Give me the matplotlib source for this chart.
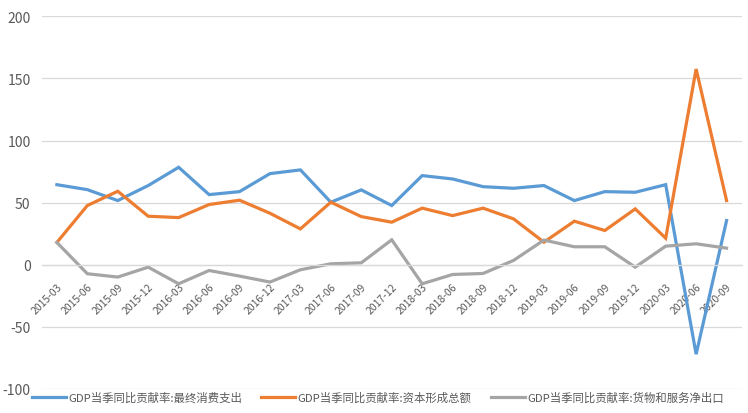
import matplotlib.pyplot as plt

plt.rcParams['font.family'] = ['Noto Sans CJK SC', 'DejaVu Sans']
plt.rcParams['axes.unicode_minus'] = False

# 季度
quarters = ['2015-03', '2015-06', '2015-09', '2015-12',
            '2016-03', '2016-06', '2016-09', '2016-12',
            '2017-03', '2017-06', '2017-09', '2017-12',
            '2018-03', '2018-06', '2018-09', '2018-12',
            '2019-03', '2019-06', '2019-09', '2019-12',
            '2020-03', '2020-06', '2020-09']

# 最终消费支出
consumption = [64.5, 60.5, 51.7, 63.8, 78.5, 56.5, 58.9, 73.4, 76.4, 50.4, 60.3, 47.7,
               71.8, 69.1, 62.9, 61.6, 63.8, 51.7, 58.9, 58.4, 64.5, -72.0, 35.6]
# 资本形成总额
capital = [18.0, 47.7, 59.2, 39.1, 38.0, 48.5, 52.0, 41.5, 28.9, 50.4, 38.8, 34.3,
           45.6, 39.6, 45.6, 37.0, 18.2, 35.1, 27.6, 45.0, 21.4, 157.6, 51.7]
# 货物和服务净出口
net_export = [18.0, -7.2, -9.9, -1.9, -15.3, -4.6, -9.1, -13.9, -4.0, 0.8, 1.6, 20.1,
              -15.3, -7.8, -7.0, 3.5, 19.9, 14.5, 14.5, -1.9, 15.0, 16.9, 13.4]

labels = ['GDP当季同比贡献率:最终消费支出',
          'GDP当季同比贡献率:资本形成总额',
          'GDP当季同比贡献率:货物和服务净出口']
colors = ['#5B9BD5', '#ED7D31', '#A5A5A5']

fig = plt.figure(figsize=(7.48, 4.14), dpi=100)
ax = fig.add_axes([0.0557, 0.058, 0.936, 0.900])

x = range(len(quarters))
for data, lab, c in zip([consumption, capital, net_export], labels, colors):
    ax.plot(x, data, color=c, linewidth=2.3, label=lab, solid_joinstyle='miter')

ax.set_xlim(-0.5, len(quarters) - 0.5)
ax.set_ylim(-100, 200)
ax.set_yticks([-100, -50, 0, 50, 100, 150, 200])
ax.grid(axis='y', color='#D9D9D9', linewidth=0.9)
ax.set_axisbelow(True)

for s in ['top', 'right', 'left']:
    ax.spines[s].set_visible(False)
ax.spines['bottom'].set_position(('data', 0))
ax.spines['bottom'].set_color('#D9D9D9')
ax.spines['bottom'].set_linewidth(0.9)

ax.set_xticks(list(x))
ax.set_xticklabels(quarters, rotation=45, ha='right', va='top',
                   rotation_mode='anchor', fontsize=7.5, color='#595959')
ax.tick_params(axis='x', length=0, pad=12)
ax.tick_params(axis='y', length=0, labelsize=10, labelcolor='#595959', pad=8)

fig.legend(loc='lower center', bbox_to_anchor=(0.505, 0.0), ncol=3, frameon=False,
           fontsize=8.2, handlelength=3.0, handletextpad=0.2, columnspacing=1.7,
           labelcolor='#595959')

fig.savefig('out.png', dpi=100)
